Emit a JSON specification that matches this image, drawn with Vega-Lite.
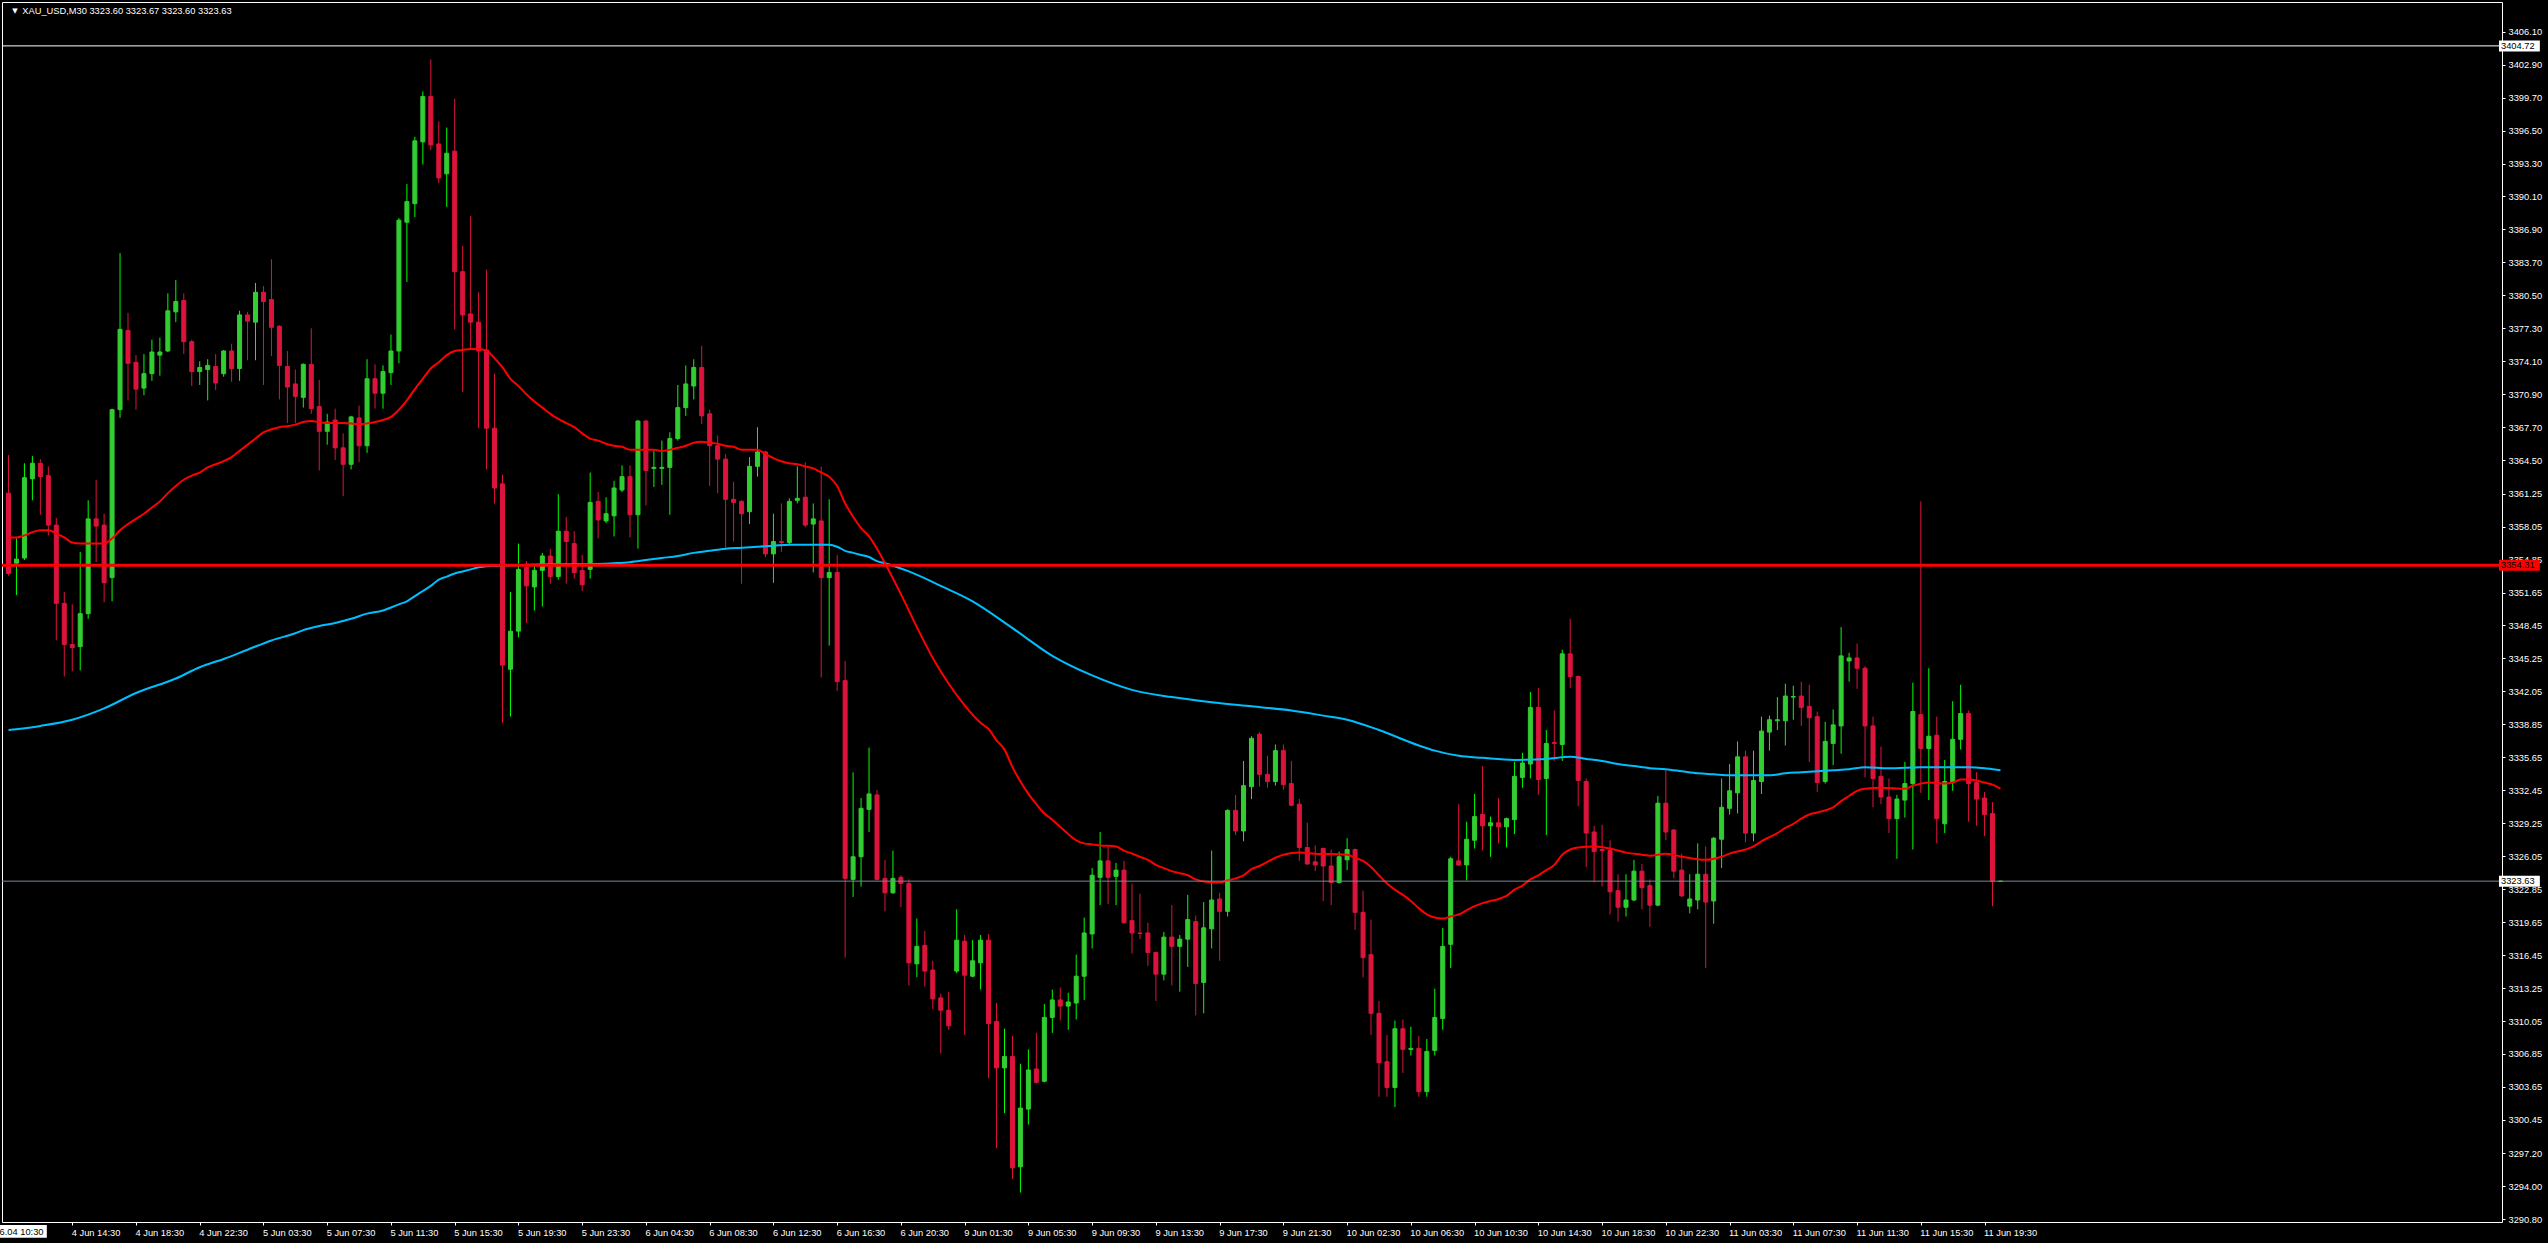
{
"$schema": "https://vega.github.io/schema/vega-lite/v6.json",
"width": 2500, "height": 1220, "autosize": "none",
"padding": {"left": 2, "top": 2, "right": 46, "bottom": 21},
"background": "#000000",
"config": {
  "view": {"stroke": "#ffffff", "strokeWidth": 1, "fill": "#000000"},
  "axis": {"labelColor": "#ffffff", "tickColor": "#ffffff", "domain": false, "grid": false, "labelFont": "Liberation Sans", "labelFontSize": 9.3, "tickSize": 3, "title": null}
},
"datasets": {
"candles": [
{"i":0,"o":3361.3,"h":3365.0,"l":3353.3,"c":3353.5},
{"i":1,"o":3354.5,"h":3356.9,"l":3351.4,"c":3354.9},
{"i":2,"o":3355.0,"h":3364.2,"l":3354.8,"c":3362.8},
{"i":3,"o":3362.7,"h":3364.9,"l":3360.6,"c":3364.2},
{"i":4,"o":3364.2,"h":3364.6,"l":3359.2,"c":3362.9},
{"i":5,"o":3363.0,"h":3363.9,"l":3357.2,"c":3358.2},
{"i":6,"o":3358.2,"h":3358.9,"l":3347.0,"c":3350.6},
{"i":7,"o":3350.6,"h":3351.7,"l":3343.5,"c":3346.6},
{"i":8,"o":3346.6,"h":3350.5,"l":3344.0,"c":3346.3},
{"i":9,"o":3346.4,"h":3355.6,"l":3344.1,"c":3349.6},
{"i":10,"o":3349.6,"h":3360.6,"l":3349.1,"c":3358.8},
{"i":11,"o":3358.8,"h":3362.6,"l":3354.6,"c":3358.1},
{"i":12,"o":3358.2,"h":3359.3,"l":3350.7,"c":3352.6},
{"i":13,"o":3353.1,"h":3369.5,"l":3350.8,"c":3369.4},
{"i":14,"o":3369.4,"h":3384.6,"l":3368.6,"c":3377.2},
{"i":15,"o":3377.1,"h":3378.8,"l":3370.3,"c":3373.9},
{"i":16,"o":3374.0,"h":3374.7,"l":3369.4,"c":3371.4},
{"i":17,"o":3371.5,"h":3374.8,"l":3370.8,"c":3372.9},
{"i":18,"o":3372.9,"h":3376.2,"l":3372.2,"c":3375.0},
{"i":19,"o":3374.7,"h":3376.4,"l":3372.7,"c":3375.0},
{"i":20,"o":3375.1,"h":3380.7,"l":3375.0,"c":3379.0},
{"i":21,"o":3378.9,"h":3382.0,"l":3377.9,"c":3379.9},
{"i":22,"o":3380.0,"h":3380.7,"l":3374.8,"c":3376.0},
{"i":23,"o":3376.0,"h":3376.2,"l":3371.7,"c":3373.1},
{"i":24,"o":3373.1,"h":3374.1,"l":3371.8,"c":3373.5},
{"i":25,"o":3373.3,"h":3374.3,"l":3370.3,"c":3373.7},
{"i":26,"o":3373.6,"h":3374.8,"l":3371.3,"c":3372.0},
{"i":27,"o":3372.9,"h":3375.2,"l":3372.6,"c":3375.1},
{"i":28,"o":3375.1,"h":3375.8,"l":3372.1,"c":3373.4},
{"i":29,"o":3373.4,"h":3379.0,"l":3372.2,"c":3378.6},
{"i":30,"o":3378.6,"h":3378.9,"l":3374.2,"c":3378.0},
{"i":31,"o":3377.9,"h":3381.7,"l":3374.2,"c":3380.8},
{"i":32,"o":3380.8,"h":3381.4,"l":3371.8,"c":3379.9},
{"i":33,"o":3380.1,"h":3384.0,"l":3374.6,"c":3377.4},
{"i":34,"o":3377.5,"h":3377.6,"l":3370.4,"c":3373.7},
{"i":35,"o":3373.6,"h":3375.1,"l":3368.1,"c":3371.6},
{"i":36,"o":3371.9,"h":3373.3,"l":3368.1,"c":3370.7},
{"i":37,"o":3370.6,"h":3373.9,"l":3369.6,"c":3373.8},
{"i":38,"o":3373.8,"h":3377.3,"l":3369.0,"c":3369.5},
{"i":39,"o":3369.7,"h":3372.3,"l":3363.5,"c":3367.3},
{"i":40,"o":3367.3,"h":3369.0,"l":3366.0,"c":3368.2},
{"i":41,"o":3368.4,"h":3369.5,"l":3364.5,"c":3365.7},
{"i":42,"o":3365.7,"h":3367.1,"l":3361.0,"c":3364.1},
{"i":43,"o":3364.1,"h":3368.8,"l":3363.6,"c":3368.7},
{"i":44,"o":3368.6,"h":3369.8,"l":3364.3,"c":3365.9},
{"i":45,"o":3365.9,"h":3374.3,"l":3365.2,"c":3372.4},
{"i":46,"o":3372.4,"h":3373.8,"l":3369.5,"c":3371.0},
{"i":47,"o":3371.0,"h":3373.7,"l":3369.5,"c":3373.1},
{"i":48,"o":3373.0,"h":3376.7,"l":3371.8,"c":3375.1},
{"i":49,"o":3375.1,"h":3388.0,"l":3373.9,"c":3387.8},
{"i":50,"o":3387.6,"h":3391.3,"l":3381.8,"c":3389.6},
{"i":51,"o":3389.4,"h":3395.9,"l":3388.1,"c":3395.5},
{"i":52,"o":3395.4,"h":3400.3,"l":3393.2,"c":3399.8},
{"i":53,"o":3399.8,"h":3403.4,"l":3394.6,"c":3395.1},
{"i":54,"o":3395.2,"h":3397.4,"l":3391.4,"c":3391.9},
{"i":55,"o":3392.3,"h":3396.8,"l":3389.1,"c":3394.3},
{"i":56,"o":3394.5,"h":3399.6,"l":3377.2,"c":3382.8},
{"i":57,"o":3382.8,"h":3385.3,"l":3371.1,"c":3378.6},
{"i":58,"o":3378.7,"h":3388.2,"l":3375.3,"c":3377.9},
{"i":59,"o":3377.9,"h":3380.8,"l":3367.6,"c":3375.1},
{"i":60,"o":3375.2,"h":3383.0,"l":3363.6,"c":3367.6},
{"i":61,"o":3367.6,"h":3372.9,"l":3360.3,"c":3361.8},
{"i":62,"o":3362.2,"h":3363.1,"l":3339.0,"c":3344.6},
{"i":63,"o":3344.2,"h":3351.7,"l":3339.6,"c":3347.9},
{"i":64,"o":3347.9,"h":3356.4,"l":3347.3,"c":3353.9},
{"i":65,"o":3354.1,"h":3354.7,"l":3348.7,"c":3352.3},
{"i":66,"o":3352.2,"h":3354.2,"l":3349.9,"c":3353.8},
{"i":67,"o":3353.8,"h":3355.5,"l":3350.3,"c":3355.2},
{"i":68,"o":3355.2,"h":3355.9,"l":3352.5,"c":3353.2},
{"i":69,"o":3353.2,"h":3361.2,"l":3352.9,"c":3357.6},
{"i":70,"o":3357.6,"h":3359.0,"l":3352.5,"c":3356.6},
{"i":71,"o":3356.4,"h":3357.6,"l":3353.0,"c":3353.6},
{"i":72,"o":3353.8,"h":3355.3,"l":3351.8,"c":3352.4},
{"i":73,"o":3353.9,"h":3363.3,"l":3353.0,"c":3360.4},
{"i":74,"o":3360.5,"h":3361.4,"l":3356.9,"c":3358.7},
{"i":75,"o":3358.6,"h":3360.9,"l":3358.4,"c":3359.3},
{"i":76,"o":3359.1,"h":3362.5,"l":3357.1,"c":3361.8},
{"i":77,"o":3361.6,"h":3364.0,"l":3361.4,"c":3362.9},
{"i":78,"o":3362.9,"h":3364.0,"l":3357.0,"c":3359.2},
{"i":79,"o":3359.2,"h":3368.4,"l":3355.9,"c":3368.3},
{"i":80,"o":3368.3,"h":3368.4,"l":3360.1,"c":3363.5},
{"i":81,"o":3363.7,"h":3365.4,"l":3361.9,"c":3363.8},
{"i":82,"o":3363.7,"h":3366.4,"l":3362.1,"c":3363.8},
{"i":83,"o":3363.8,"h":3367.2,"l":3359.2,"c":3366.6},
{"i":84,"o":3366.6,"h":3371.8,"l":3366.4,"c":3369.6},
{"i":85,"o":3369.6,"h":3373.7,"l":3368.8,"c":3371.9},
{"i":86,"o":3371.7,"h":3374.3,"l":3370.4,"c":3373.5},
{"i":87,"o":3373.5,"h":3375.6,"l":3368.0,"c":3368.8},
{"i":88,"o":3369.0,"h":3369.4,"l":3362.0,"c":3365.9},
{"i":89,"o":3365.9,"h":3366.9,"l":3361.3,"c":3364.6},
{"i":90,"o":3364.6,"h":3365.1,"l":3356.0,"c":3360.7},
{"i":91,"o":3360.7,"h":3362.4,"l":3356.6,"c":3360.4},
{"i":92,"o":3360.5,"h":3360.6,"l":3352.5,"c":3359.3},
{"i":93,"o":3359.5,"h":3364.8,"l":3358.3,"c":3363.9},
{"i":94,"o":3363.9,"h":3367.7,"l":3362.9,"c":3365.3},
{"i":95,"o":3365.3,"h":3365.4,"l":3355.1,"c":3355.4},
{"i":96,"o":3355.4,"h":3359.3,"l":3352.6,"c":3356.6},
{"i":97,"o":3356.6,"h":3360.3,"l":3355.6,"c":3356.5},
{"i":98,"o":3356.5,"h":3360.8,"l":3356.3,"c":3360.5},
{"i":99,"o":3360.6,"h":3363.9,"l":3360.3,"c":3360.8},
{"i":100,"o":3360.9,"h":3364.3,"l":3358.0,"c":3358.2},
{"i":101,"o":3358.3,"h":3360.3,"l":3353.6,"c":3358.8},
{"i":102,"o":3358.6,"h":3363.9,"l":3343.4,"c":3353.1},
{"i":103,"o":3353.1,"h":3360.7,"l":3346.5,"c":3353.6},
{"i":104,"o":3353.6,"h":3355.3,"l":3342.1,"c":3343.0},
{"i":105,"o":3343.1,"h":3345.0,"l":3316.2,"c":3323.9},
{"i":106,"o":3323.8,"h":3334.2,"l":3322.1,"c":3326.0},
{"i":107,"o":3326.0,"h":3331.7,"l":3323.1,"c":3330.7},
{"i":108,"o":3330.6,"h":3336.6,"l":3328.4,"c":3332.1},
{"i":109,"o":3332.0,"h":3332.5,"l":3323.7,"c":3323.8},
{"i":110,"o":3323.9,"h":3325.7,"l":3320.7,"c":3322.5},
{"i":111,"o":3322.5,"h":3326.6,"l":3322.4,"c":3323.9},
{"i":112,"o":3324.0,"h":3324.2,"l":3321.1,"c":3323.4},
{"i":113,"o":3323.4,"h":3323.8,"l":3313.5,"c":3315.7},
{"i":114,"o":3315.6,"h":3320.0,"l":3314.3,"c":3317.3},
{"i":115,"o":3317.4,"h":3318.8,"l":3313.4,"c":3314.9},
{"i":116,"o":3315.0,"h":3315.9,"l":3311.2,"c":3312.2},
{"i":117,"o":3312.3,"h":3312.7,"l":3306.9,"c":3311.1},
{"i":118,"o":3311.1,"h":3312.9,"l":3309.2,"c":3309.6},
{"i":119,"o":3314.9,"h":3320.9,"l":3314.7,"c":3317.9},
{"i":120,"o":3317.8,"h":3318.4,"l":3308.7,"c":3314.5},
{"i":121,"o":3314.4,"h":3317.9,"l":3314.3,"c":3315.9},
{"i":122,"o":3315.7,"h":3318.4,"l":3313.1,"c":3317.9},
{"i":123,"o":3317.9,"h":3318.5,"l":3304.5,"c":3309.8},
{"i":124,"o":3310.0,"h":3311.8,"l":3297.7,"c":3305.5},
{"i":125,"o":3305.5,"h":3309.3,"l":3301.1,"c":3306.6},
{"i":126,"o":3306.6,"h":3308.6,"l":3294.7,"c":3295.8},
{"i":127,"o":3295.9,"h":3305.9,"l":3293.4,"c":3301.6},
{"i":128,"o":3301.5,"h":3307.3,"l":3300.0,"c":3305.3},
{"i":129,"o":3305.4,"h":3308.9,"l":3304.0,"c":3304.1},
{"i":130,"o":3304.2,"h":3311.7,"l":3304.1,"c":3310.4},
{"i":131,"o":3310.4,"h":3313.1,"l":3308.9,"c":3312.1},
{"i":132,"o":3312.1,"h":3313.3,"l":3310.1,"c":3311.5},
{"i":133,"o":3311.5,"h":3312.8,"l":3309.2,"c":3311.9},
{"i":134,"o":3311.8,"h":3316.5,"l":3310.2,"c":3314.4},
{"i":135,"o":3314.4,"h":3320.1,"l":3312.1,"c":3318.6},
{"i":136,"o":3318.5,"h":3324.9,"l":3317.1,"c":3324.2},
{"i":137,"o":3324.0,"h":3328.4,"l":3321.3,"c":3325.6},
{"i":138,"o":3325.6,"h":3327.1,"l":3321.4,"c":3324.0},
{"i":139,"o":3324.1,"h":3325.4,"l":3321.3,"c":3324.7},
{"i":140,"o":3324.7,"h":3325.6,"l":3319.5,"c":3319.6},
{"i":141,"o":3319.8,"h":3323.4,"l":3316.6,"c":3318.6},
{"i":142,"o":3318.6,"h":3322.4,"l":3318.0,"c":3318.55},
{"i":143,"o":3318.6,"h":3319.6,"l":3315.4,"c":3316.7},
{"i":144,"o":3316.7,"h":3316.8,"l":3312.0,"c":3314.6},
{"i":145,"o":3314.6,"h":3318.7,"l":3314.0,"c":3318.2},
{"i":146,"o":3318.2,"h":3321.3,"l":3313.5,"c":3317.3},
{"i":147,"o":3317.3,"h":3318.4,"l":3312.9,"c":3318.0},
{"i":148,"o":3318.0,"h":3322.3,"l":3315.3,"c":3319.9},
{"i":149,"o":3319.7,"h":3320.3,"l":3310.6,"c":3313.7},
{"i":150,"o":3313.8,"h":3321.6,"l":3310.8,"c":3319.1},
{"i":151,"o":3319.0,"h":3326.6,"l":3317.1,"c":3321.8},
{"i":152,"o":3321.9,"h":3322.5,"l":3315.9,"c":3320.7},
{"i":153,"o":3320.7,"h":3330.6,"l":3320.2,"c":3330.5},
{"i":154,"o":3330.5,"h":3332.0,"l":3328.1,"c":3328.5},
{"i":155,"o":3328.5,"h":3335.3,"l":3327.5,"c":3332.9},
{"i":156,"o":3332.8,"h":3337.7,"l":3331.6,"c":3337.5},
{"i":157,"o":3337.9,"h":3338.1,"l":3332.8,"c":3334.0},
{"i":158,"o":3334.0,"h":3335.8,"l":3332.7,"c":3333.3},
{"i":159,"o":3333.3,"h":3336.9,"l":3332.9,"c":3336.3},
{"i":160,"o":3336.3,"h":3336.9,"l":3332.5,"c":3333.0},
{"i":161,"o":3333.1,"h":3335.3,"l":3330.9,"c":3331.0},
{"i":162,"o":3331.1,"h":3331.6,"l":3325.6,"c":3326.9},
{"i":163,"o":3326.9,"h":3329.3,"l":3325.2,"c":3325.3},
{"i":164,"o":3325.5,"h":3327.1,"l":3324.6,"c":3325.2},
{"i":165,"o":3326.8,"h":3326.9,"l":3321.7,"c":3325.1},
{"i":166,"o":3325.1,"h":3326.7,"l":3321.3,"c":3323.5},
{"i":167,"o":3323.5,"h":3326.5,"l":3323.4,"c":3326.0},
{"i":168,"o":3325.7,"h":3327.8,"l":3324.7,"c":3326.7},
{"i":169,"o":3326.7,"h":3326.8,"l":3318.9,"c":3320.6},
{"i":170,"o":3320.6,"h":3322.7,"l":3314.3,"c":3316.2},
{"i":171,"o":3316.5,"h":3319.9,"l":3308.7,"c":3310.8},
{"i":172,"o":3310.8,"h":3312.0,"l":3302.7,"c":3306.0},
{"i":173,"o":3306.1,"h":3308.7,"l":3302.7,"c":3303.6},
{"i":174,"o":3303.6,"h":3310.1,"l":3301.7,"c":3309.3},
{"i":175,"o":3309.3,"h":3310.2,"l":3305.0,"c":3307.3},
{"i":176,"o":3307.3,"h":3309.5,"l":3306.7,"c":3307.4},
{"i":177,"o":3307.4,"h":3308.6,"l":3302.7,"c":3303.2},
{"i":178,"o":3303.2,"h":3308.3,"l":3302.7,"c":3307.1},
{"i":179,"o":3307.2,"h":3313.2,"l":3306.7,"c":3310.4},
{"i":180,"o":3310.3,"h":3319.1,"l":3309.2,"c":3317.3},
{"i":181,"o":3317.5,"h":3326.0,"l":3315.2,"c":3325.8},
{"i":182,"o":3325.6,"h":3331.1,"l":3325.1,"c":3325.2},
{"i":183,"o":3325.2,"h":3329.4,"l":3323.7,"c":3327.7},
{"i":184,"o":3327.6,"h":3332.1,"l":3326.8,"c":3329.9},
{"i":185,"o":3330.1,"h":3334.8,"l":3326.6,"c":3329.0},
{"i":186,"o":3329.0,"h":3329.9,"l":3326.0,"c":3329.3},
{"i":187,"o":3329.3,"h":3331.7,"l":3327.3,"c":3328.9},
{"i":188,"o":3328.9,"h":3329.8,"l":3326.9,"c":3329.7},
{"i":189,"o":3329.6,"h":3335.2,"l":3328.2,"c":3333.8},
{"i":190,"o":3333.7,"h":3336.1,"l":3332.7,"c":3335.1},
{"i":191,"o":3335.0,"h":3342.0,"l":3333.6,"c":3340.5},
{"i":192,"o":3340.5,"h":3342.4,"l":3332.0,"c":3333.5},
{"i":193,"o":3333.6,"h":3338.3,"l":3328.1,"c":3337.0},
{"i":194,"o":3337.1,"h":3340.2,"l":3335.3,"c":3337.0},
{"i":195,"o":3336.9,"h":3346.1,"l":3335.3,"c":3345.7},
{"i":196,"o":3345.7,"h":3349.1,"l":3342.4,"c":3343.5},
{"i":197,"o":3343.5,"h":3343.6,"l":3330.9,"c":3333.4},
{"i":198,"o":3333.3,"h":3333.6,"l":3325.0,"c":3328.3},
{"i":199,"o":3328.4,"h":3329.0,"l":3323.5,"c":3326.5},
{"i":200,"o":3326.7,"h":3329.1,"l":3323.1,"c":3326.6},
{"i":201,"o":3326.6,"h":3327.6,"l":3320.4,"c":3322.6},
{"i":202,"o":3322.7,"h":3324.3,"l":3319.7,"c":3321.1},
{"i":203,"o":3321.1,"h":3324.3,"l":3320.2,"c":3321.8},
{"i":204,"o":3321.8,"h":3325.7,"l":3321.7,"c":3324.6},
{"i":205,"o":3324.6,"h":3325.3,"l":3320.9,"c":3323.0},
{"i":206,"o":3323.2,"h":3323.8,"l":3319.2,"c":3321.3},
{"i":207,"o":3321.3,"h":3331.9,"l":3321.2,"c":3331.2},
{"i":208,"o":3331.2,"h":3334.4,"l":3327.6,"c":3328.4},
{"i":209,"o":3328.6,"h":3328.7,"l":3323.9,"c":3324.6},
{"i":210,"o":3324.7,"h":3326.3,"l":3322.1,"c":3322.2},
{"i":211,"o":3321.2,"h":3324.3,"l":3320.5,"c":3321.9},
{"i":212,"o":3321.8,"h":3327.3,"l":3320.9,"c":3324.3},
{"i":213,"o":3324.3,"h":3327.0,"l":3315.2,"c":3321.6},
{"i":214,"o":3321.7,"h":3327.9,"l":3319.5,"c":3327.8},
{"i":215,"o":3327.7,"h":3333.6,"l":3324.9,"c":3330.8},
{"i":216,"o":3330.7,"h":3335.0,"l":3330.1,"c":3332.4},
{"i":217,"o":3332.2,"h":3337.2,"l":3330.2,"c":3335.7},
{"i":218,"o":3335.7,"h":3336.3,"l":3327.4,"c":3328.3},
{"i":219,"o":3328.3,"h":3336.3,"l":3327.5,"c":3333.4},
{"i":220,"o":3333.3,"h":3339.6,"l":3332.1,"c":3338.2},
{"i":221,"o":3338.1,"h":3339.7,"l":3336.3,"c":3339.3},
{"i":222,"o":3339.2,"h":3341.5,"l":3338.3,"c":3339.3},
{"i":223,"o":3339.2,"h":3342.8,"l":3336.8,"c":3341.6},
{"i":224,"o":3341.5,"h":3342.6,"l":3339.3,"c":3341.55},
{"i":225,"o":3341.6,"h":3343.0,"l":3338.7,"c":3340.5},
{"i":226,"o":3340.6,"h":3342.7,"l":3335.2,"c":3339.5},
{"i":227,"o":3339.6,"h":3340.1,"l":3332.3,"c":3333.2},
{"i":228,"o":3333.3,"h":3339.1,"l":3333.1,"c":3337.2},
{"i":229,"o":3337.0,"h":3340.3,"l":3334.9,"c":3338.8},
{"i":230,"o":3338.7,"h":3348.3,"l":3336.0,"c":3345.5},
{"i":231,"o":3345.0,"h":3345.8,"l":3343.0,"c":3345.3},
{"i":232,"o":3345.3,"h":3346.7,"l":3342.3,"c":3344.3},
{"i":233,"o":3344.3,"h":3344.5,"l":3333.7,"c":3338.7},
{"i":234,"o":3338.7,"h":3339.6,"l":3330.8,"c":3333.6},
{"i":235,"o":3333.8,"h":3336.7,"l":3331.1,"c":3331.8},
{"i":236,"o":3331.8,"h":3333.6,"l":3328.3,"c":3329.7},
{"i":237,"o":3329.7,"h":3332.0,"l":3325.8,"c":3331.6},
{"i":238,"o":3331.5,"h":3335.2,"l":3329.8,"c":3333.1},
{"i":239,"o":3333.1,"h":3342.9,"l":3326.7,"c":3340.1},
{"i":240,"o":3339.8,"h":3360.5,"l":3332.2,"c":3336.5},
{"i":241,"o":3336.5,"h":3344.3,"l":3331.5,"c":3337.7},
{"i":242,"o":3337.8,"h":3339.6,"l":3327.3,"c":3329.7},
{"i":243,"o":3329.2,"h":3335.4,"l":3328.3,"c":3333.3},
{"i":244,"o":3333.2,"h":3341.1,"l":3332.4,"c":3337.4},
{"i":245,"o":3337.4,"h":3342.7,"l":3336.4,"c":3339.9},
{"i":246,"o":3339.9,"h":3340.2,"l":3329.4,"c":3333.1},
{"i":247,"o":3333.2,"h":3334.2,"l":3329.0,"c":3331.6},
{"i":248,"o":3331.7,"h":3332.3,"l":3328.0,"c":3330.1},
{"i":249,"o":3330.2,"h":3331.3,"l":3321.2,"c":3323.6},
{"i":250,"o":3323.60,"h":3323.67,"l":3323.60,"c":3323.63}
],
"ma": [
{"i":0,"v":3338.3,"line":"slow"},{"i":4,"v":3338.7,"line":"slow"},{"i":8,"v":3339.3,"line":"slow"},{"i":12,"v":3340.4,"line":"slow"},{"i":16,"v":3341.9,"line":"slow"},{"i":21,"v":3343.3,"line":"slow"},{"i":24,"v":3344.4,"line":"slow"},{"i":27,"v":3345.2,"line":"slow"},{"i":30,"v":3346.1,"line":"slow"},{"i":33,"v":3347.0,"line":"slow"},{"i":36,"v":3347.7,"line":"slow"},{"i":37,"v":3348.0,"line":"slow"},{"i":39,"v":3348.4,"line":"slow"},{"i":41,"v":3348.7,"line":"slow"},{"i":43,"v":3349.1,"line":"slow"},{"i":45,"v":3349.6,"line":"slow"},{"i":47,"v":3349.9,"line":"slow"},{"i":48,"v":3350.2,"line":"slow"},{"i":49,"v":3350.5,"line":"slow"},{"i":50,"v":3350.8,"line":"slow"},{"i":51,"v":3351.3,"line":"slow"},{"i":52,"v":3351.8,"line":"slow"},{"i":53,"v":3352.3,"line":"slow"},{"i":54,"v":3352.9,"line":"slow"},{"i":55,"v":3353.2,"line":"slow"},{"i":56,"v":3353.5,"line":"slow"},{"i":57,"v":3353.7,"line":"slow"},{"i":58,"v":3353.9,"line":"slow"},{"i":59,"v":3354.1,"line":"slow"},{"i":60,"v":3354.2,"line":"slow"},{"i":64,"v":3354.3,"line":"slow"},{"i":68,"v":3354.4,"line":"slow"},{"i":72,"v":3354.4,"line":"slow"},{"i":76,"v":3354.5,"line":"slow"},{"i":78,"v":3354.6,"line":"slow"},{"i":80,"v":3354.8,"line":"slow"},{"i":82,"v":3355.0,"line":"slow"},{"i":84,"v":3355.2,"line":"slow"},{"i":86,"v":3355.5,"line":"slow"},{"i":88,"v":3355.7,"line":"slow"},{"i":90,"v":3355.9,"line":"slow"},{"i":92,"v":3356.0,"line":"slow"},{"i":94,"v":3356.1,"line":"slow"},{"i":96,"v":3356.2,"line":"slow"},{"i":98,"v":3356.3,"line":"slow"},{"i":100,"v":3356.3,"line":"slow"},{"i":103,"v":3356.3,"line":"slow"},{"i":104,"v":3356.1,"line":"slow"},{"i":105,"v":3355.7,"line":"slow"},{"i":106,"v":3355.5,"line":"slow"},{"i":107,"v":3355.3,"line":"slow"},{"i":108,"v":3355.1,"line":"slow"},{"i":109,"v":3354.7,"line":"slow"},{"i":110,"v":3354.5,"line":"slow"},{"i":113,"v":3353.7,"line":"slow"},{"i":117,"v":3352.3,"line":"slow"},{"i":121,"v":3350.8,"line":"slow"},{"i":126,"v":3348.2,"line":"slow"},{"i":131,"v":3345.5,"line":"slow"},{"i":136,"v":3343.6,"line":"slow"},{"i":141,"v":3342.2,"line":"slow"},{"i":146,"v":3341.5,"line":"slow"},{"i":151,"v":3341.0,"line":"slow"},{"i":156,"v":3340.6,"line":"slow"},{"i":161,"v":3340.2,"line":"slow"},{"i":165,"v":3339.7,"line":"slow"},{"i":168,"v":3339.3,"line":"slow"},{"i":172,"v":3338.3,"line":"slow"},{"i":177,"v":3336.8,"line":"slow"},{"i":179,"v":3336.3,"line":"slow"},{"i":182,"v":3335.8,"line":"slow"},{"i":185,"v":3335.6,"line":"slow"},{"i":189,"v":3335.4,"line":"slow"},{"i":193,"v":3335.5,"line":"slow"},{"i":196,"v":3335.7,"line":"slow"},{"i":198,"v":3335.5,"line":"slow"},{"i":200,"v":3335.3,"line":"slow"},{"i":202,"v":3335.0,"line":"slow"},{"i":204,"v":3334.8,"line":"slow"},{"i":206,"v":3334.6,"line":"slow"},{"i":208,"v":3334.5,"line":"slow"},{"i":210,"v":3334.3,"line":"slow"},{"i":212,"v":3334.1,"line":"slow"},{"i":214,"v":3334.0,"line":"slow"},{"i":216,"v":3333.9,"line":"slow"},{"i":219,"v":3333.9,"line":"slow"},{"i":221,"v":3333.9,"line":"slow"},{"i":223,"v":3334.1,"line":"slow"},{"i":225,"v":3334.2,"line":"slow"},{"i":227,"v":3334.3,"line":"slow"},{"i":229,"v":3334.4,"line":"slow"},{"i":231,"v":3334.5,"line":"slow"},{"i":233,"v":3334.7,"line":"slow"},{"i":236,"v":3334.6,"line":"slow"},{"i":240,"v":3334.7,"line":"slow"},{"i":246,"v":3334.7,"line":"slow"},{"i":248,"v":3334.6,"line":"slow"},{"i":249,"v":3334.5,"line":"slow"},{"i":250,"v":3334.4,"line":"slow"},
{"i":0,"v":3357.0,"line":"fast"},{"i":1,"v":3357.0,"line":"fast"},{"i":2,"v":3357.2,"line":"fast"},{"i":3,"v":3357.5,"line":"fast"},{"i":4,"v":3357.7,"line":"fast"},{"i":5,"v":3357.7,"line":"fast"},{"i":6,"v":3357.4,"line":"fast"},{"i":7,"v":3357.0,"line":"fast"},{"i":8,"v":3356.5,"line":"fast"},{"i":9,"v":3356.4,"line":"fast"},{"i":10,"v":3356.4,"line":"fast"},{"i":11,"v":3356.4,"line":"fast"},{"i":12,"v":3356.4,"line":"fast"},{"i":13,"v":3356.9,"line":"fast"},{"i":14,"v":3357.7,"line":"fast"},{"i":15,"v":3358.3,"line":"fast"},{"i":16,"v":3358.8,"line":"fast"},{"i":17,"v":3359.3,"line":"fast"},{"i":18,"v":3359.9,"line":"fast"},{"i":19,"v":3360.5,"line":"fast"},{"i":20,"v":3361.3,"line":"fast"},{"i":21,"v":3362.0,"line":"fast"},{"i":22,"v":3362.6,"line":"fast"},{"i":23,"v":3363.0,"line":"fast"},{"i":24,"v":3363.3,"line":"fast"},{"i":25,"v":3363.8,"line":"fast"},{"i":26,"v":3364.1,"line":"fast"},{"i":27,"v":3364.4,"line":"fast"},{"i":28,"v":3364.8,"line":"fast"},{"i":29,"v":3365.4,"line":"fast"},{"i":30,"v":3366.0,"line":"fast"},{"i":31,"v":3366.6,"line":"fast"},{"i":32,"v":3367.2,"line":"fast"},{"i":33,"v":3367.5,"line":"fast"},{"i":34,"v":3367.7,"line":"fast"},{"i":35,"v":3367.8,"line":"fast"},{"i":36,"v":3367.95,"line":"fast"},{"i":37,"v":3368.2,"line":"fast"},{"i":38,"v":3368.3,"line":"fast"},{"i":39,"v":3368.2,"line":"fast"},{"i":40,"v":3368.1,"line":"fast"},{"i":42,"v":3368.1,"line":"fast"},{"i":44,"v":3368.0,"line":"fast"},{"i":46,"v":3368.2,"line":"fast"},{"i":47,"v":3368.4,"line":"fast"},{"i":48,"v":3368.7,"line":"fast"},{"i":49,"v":3369.4,"line":"fast"},{"i":50,"v":3370.3,"line":"fast"},{"i":51,"v":3371.4,"line":"fast"},{"i":52,"v":3372.4,"line":"fast"},{"i":53,"v":3373.4,"line":"fast"},{"i":54,"v":3374.0,"line":"fast"},{"i":55,"v":3374.7,"line":"fast"},{"i":56,"v":3375.1,"line":"fast"},{"i":57,"v":3375.2,"line":"fast"},{"i":58,"v":3375.3,"line":"fast"},{"i":59,"v":3375.3,"line":"fast"},{"i":60,"v":3375.1,"line":"fast"},{"i":61,"v":3374.4,"line":"fast"},{"i":62,"v":3373.5,"line":"fast"},{"i":63,"v":3372.4,"line":"fast"},{"i":64,"v":3371.7,"line":"fast"},{"i":65,"v":3370.9,"line":"fast"},{"i":66,"v":3370.2,"line":"fast"},{"i":67,"v":3369.6,"line":"fast"},{"i":68,"v":3369.0,"line":"fast"},{"i":69,"v":3368.5,"line":"fast"},{"i":70,"v":3368.1,"line":"fast"},{"i":71,"v":3367.7,"line":"fast"},{"i":72,"v":3367.1,"line":"fast"},{"i":73,"v":3366.6,"line":"fast"},{"i":74,"v":3366.4,"line":"fast"},{"i":75,"v":3366.1,"line":"fast"},{"i":76,"v":3365.9,"line":"fast"},{"i":77,"v":3365.8,"line":"fast"},{"i":78,"v":3365.5,"line":"fast"},{"i":81,"v":3365.5,"line":"fast"},{"i":82,"v":3365.4,"line":"fast"},{"i":83,"v":3365.5,"line":"fast"},{"i":84,"v":3365.7,"line":"fast"},{"i":85,"v":3365.9,"line":"fast"},{"i":86,"v":3366.2,"line":"fast"},{"i":87,"v":3366.3,"line":"fast"},{"i":88,"v":3366.2,"line":"fast"},{"i":89,"v":3366.1,"line":"fast"},{"i":90,"v":3365.9,"line":"fast"},{"i":91,"v":3365.8,"line":"fast"},{"i":92,"v":3365.5,"line":"fast"},{"i":94,"v":3365.5,"line":"fast"},{"i":95,"v":3365.1,"line":"fast"},{"i":96,"v":3364.7,"line":"fast"},{"i":97,"v":3364.4,"line":"fast"},{"i":98,"v":3364.2,"line":"fast"},{"i":99,"v":3364.1,"line":"fast"},{"i":100,"v":3363.9,"line":"fast"},{"i":101,"v":3363.7,"line":"fast"},{"i":102,"v":3363.3,"line":"fast"},{"i":103,"v":3362.9,"line":"fast"},{"i":104,"v":3362.0,"line":"fast"},{"i":105,"v":3360.3,"line":"fast"},{"i":106,"v":3359.0,"line":"fast"},{"i":107,"v":3357.9,"line":"fast"},{"i":108,"v":3357.1,"line":"fast"},{"i":109,"v":3355.9,"line":"fast"},{"i":110,"v":3354.5,"line":"fast"},{"i":112,"v":3351.5,"line":"fast"},{"i":114,"v":3348.3,"line":"fast"},{"i":116,"v":3345.3,"line":"fast"},{"i":118,"v":3342.8,"line":"fast"},{"i":120,"v":3340.7,"line":"fast"},{"i":122,"v":3339.0,"line":"fast"},{"i":123,"v":3338.4,"line":"fast"},{"i":124,"v":3337.3,"line":"fast"},{"i":125,"v":3336.4,"line":"fast"},{"i":126,"v":3334.7,"line":"fast"},{"i":127,"v":3333.3,"line":"fast"},{"i":128,"v":3332.1,"line":"fast"},{"i":129,"v":3331.1,"line":"fast"},{"i":130,"v":3330.2,"line":"fast"},{"i":131,"v":3329.6,"line":"fast"},{"i":132,"v":3328.9,"line":"fast"},{"i":133,"v":3328.2,"line":"fast"},{"i":134,"v":3327.6,"line":"fast"},{"i":135,"v":3327.3,"line":"fast"},{"i":136,"v":3327.2,"line":"fast"},{"i":137,"v":3327.1,"line":"fast"},{"i":139,"v":3327.0,"line":"fast"},{"i":140,"v":3326.6,"line":"fast"},{"i":141,"v":3326.3,"line":"fast"},{"i":142,"v":3326.0,"line":"fast"},{"i":143,"v":3325.7,"line":"fast"},{"i":144,"v":3325.2,"line":"fast"},{"i":145,"v":3324.9,"line":"fast"},{"i":146,"v":3324.6,"line":"fast"},{"i":147,"v":3324.4,"line":"fast"},{"i":148,"v":3324.2,"line":"fast"},{"i":149,"v":3323.8,"line":"fast"},{"i":150,"v":3323.6,"line":"fast"},{"i":152,"v":3323.5,"line":"fast"},{"i":153,"v":3323.7,"line":"fast"},{"i":154,"v":3323.9,"line":"fast"},{"i":155,"v":3324.2,"line":"fast"},{"i":156,"v":3324.8,"line":"fast"},{"i":157,"v":3325.1,"line":"fast"},{"i":158,"v":3325.5,"line":"fast"},{"i":159,"v":3325.9,"line":"fast"},{"i":160,"v":3326.2,"line":"fast"},{"i":162,"v":3326.4,"line":"fast"},{"i":164,"v":3326.3,"line":"fast"},{"i":168,"v":3326.2,"line":"fast"},{"i":169,"v":3325.9,"line":"fast"},{"i":170,"v":3325.6,"line":"fast"},{"i":171,"v":3325.0,"line":"fast"},{"i":172,"v":3324.2,"line":"fast"},{"i":173,"v":3323.4,"line":"fast"},{"i":174,"v":3322.8,"line":"fast"},{"i":175,"v":3322.3,"line":"fast"},{"i":176,"v":3321.7,"line":"fast"},{"i":177,"v":3321.0,"line":"fast"},{"i":178,"v":3320.4,"line":"fast"},{"i":179,"v":3320.1,"line":"fast"},{"i":180,"v":3320.0,"line":"fast"},{"i":181,"v":3320.2,"line":"fast"},{"i":182,"v":3320.4,"line":"fast"},{"i":183,"v":3320.8,"line":"fast"},{"i":184,"v":3321.2,"line":"fast"},{"i":185,"v":3321.5,"line":"fast"},{"i":186,"v":3321.7,"line":"fast"},{"i":187,"v":3321.9,"line":"fast"},{"i":188,"v":3322.2,"line":"fast"},{"i":189,"v":3322.8,"line":"fast"},{"i":190,"v":3323.2,"line":"fast"},{"i":191,"v":3323.8,"line":"fast"},{"i":192,"v":3324.2,"line":"fast"},{"i":193,"v":3324.7,"line":"fast"},{"i":194,"v":3325.2,"line":"fast"},{"i":195,"v":3326.2,"line":"fast"},{"i":196,"v":3326.7,"line":"fast"},{"i":197,"v":3326.9,"line":"fast"},{"i":199,"v":3327.0,"line":"fast"},{"i":201,"v":3326.8,"line":"fast"},{"i":202,"v":3326.6,"line":"fast"},{"i":203,"v":3326.4,"line":"fast"},{"i":205,"v":3326.2,"line":"fast"},{"i":206,"v":3326.1,"line":"fast"},{"i":208,"v":3326.3,"line":"fast"},{"i":210,"v":3326.0,"line":"fast"},{"i":213,"v":3325.7,"line":"fast"},{"i":215,"v":3326.0,"line":"fast"},{"i":216,"v":3326.3,"line":"fast"},{"i":218,"v":3326.7,"line":"fast"},{"i":219,"v":3327.0,"line":"fast"},{"i":220,"v":3327.5,"line":"fast"},{"i":221,"v":3327.9,"line":"fast"},{"i":222,"v":3328.3,"line":"fast"},{"i":223,"v":3328.8,"line":"fast"},{"i":224,"v":3329.2,"line":"fast"},{"i":225,"v":3329.7,"line":"fast"},{"i":226,"v":3330.1,"line":"fast"},{"i":227,"v":3330.3,"line":"fast"},{"i":228,"v":3330.5,"line":"fast"},{"i":229,"v":3330.8,"line":"fast"},{"i":230,"v":3331.4,"line":"fast"},{"i":231,"v":3331.9,"line":"fast"},{"i":232,"v":3332.4,"line":"fast"},{"i":233,"v":3332.6,"line":"fast"},{"i":235,"v":3332.7,"line":"fast"},{"i":238,"v":3332.6,"line":"fast"},{"i":239,"v":3332.9,"line":"fast"},{"i":240,"v":3333.1,"line":"fast"},{"i":241,"v":3333.2,"line":"fast"},{"i":243,"v":3333.1,"line":"fast"},{"i":244,"v":3333.2,"line":"fast"},{"i":245,"v":3333.5,"line":"fast"},{"i":246,"v":3333.5,"line":"fast"},{"i":247,"v":3333.4,"line":"fast"},{"i":248,"v":3333.2,"line":"fast"},{"i":249,"v":3333.0,"line":"fast"},{"i":250,"v":3332.6,"line":"fast"}
],
"levels": [
{"price": 3404.72, "name": "high"},
{"price": 3354.31, "name": "level"},
{"price": 3323.63, "name": "bid"}
]
},
"encoding": {
  "x": {"type": "quantitative", "scale": {"domain": [-0.1875, 312.3125], "nice": false, "zero": false},
        "axis": {"orient": "bottom", "values": [8,16,24,32,40,48,56,64,72,80,88,96,104,112,120,128,136,144,152,160,168,176,184,192,200,208,216,224,232,240,248],
                 "labelAlign": "left", "labelBaseline": "top", "labelPadding": 3, "labelOffset": -1, "labelFlush": false, "labelOverlap": false,
                 "labelExpr": "['4 Jun 14:30','4 Jun 18:30','4 Jun 22:30','5 Jun 03:30','5 Jun 07:30','5 Jun 11:30','5 Jun 15:30','5 Jun 19:30','5 Jun 23:30','6 Jun 04:30','6 Jun 08:30','6 Jun 12:30','6 Jun 16:30','6 Jun 20:30','9 Jun 01:30','9 Jun 05:30','9 Jun 09:30','9 Jun 13:30','9 Jun 17:30','9 Jun 21:30','10 Jun 02:30','10 Jun 06:30','10 Jun 10:30','10 Jun 14:30','10 Jun 18:30','10 Jun 22:30','11 Jun 03:30','11 Jun 07:30','11 Jun 11:30','11 Jun 15:30','11 Jun 19:30'][round(datum.value/8)-1]"}},
  "y": {"type": "quantitative", "scale": {"domain": [3290.54, 3408.98], "nice": false, "zero": false},
        "axis": {"orient": "right", "values": [3290.80,3294.00,3297.20,3300.45,3303.65,3306.85,3310.05,3313.25,3316.45,3319.65,3322.85,3326.05,3329.25,3332.45,3335.65,3338.85,3342.05,3345.25,3348.45,3351.65,3354.85,3358.05,3361.25,3364.50,3367.70,3370.90,3374.10,3377.30,3380.50,3383.70,3386.90,3390.10,3393.30,3396.50,3399.70,3402.90,3406.10],
                 "labelPadding": 3, "labelBaseline": "middle", "labelFlush": false, "labelOverlap": false,
                 "labelExpr": "format(datum.value, '.2f')"}}
},
"layer": [
  {"data": {"name": "candles"}, "mark": {"type": "rule", "strokeWidth": 1},
   "encoding": {"x": {"field": "i"}, "y": {"field": "l"}, "y2": {"field": "h"},
     "color": {"condition": {"test": "datum.c >= datum.o", "value": "#00FF00"}, "value": "#DC143C"}}},
  {"data": {"name": "candles"}, "mark": {"type": "bar", "size": 4, "strokeWidth": 1},
   "encoding": {"x": {"field": "i"}, "y": {"field": "o"}, "y2": {"field": "c"},
     "fill": {"condition": {"test": "datum.c >= datum.o", "value": "#32CD32"}, "value": "#DC143C"},
     "stroke": {"condition": {"test": "datum.c >= datum.o", "value": "#32CD32"}, "value": "#DC143C"}}},
  {"data": {"name": "ma"}, "mark": {"type": "line", "strokeWidth": 2, "interpolate": "monotone"},
   "encoding": {"x": {"field": "i"}, "y": {"field": "v"},
     "color": {"field": "line", "type": "nominal", "scale": {"domain": ["slow", "fast"], "range": ["#00BFFF", "#FF0000"]}, "legend": null},
     "order": {"field": "i", "type": "quantitative"}}},
  {"data": {"name": "levels"}, "transform": [{"filter": "datum.name == 'high'"}], "mark": {"type": "rule", "color": "#FFFFFF", "strokeWidth": 1},
   "encoding": {"y": {"field": "price"}}},
  {"data": {"name": "levels"}, "transform": [{"filter": "datum.name == 'level'"}], "mark": {"type": "rule", "color": "#FF0000", "strokeWidth": 3},
   "encoding": {"y": {"field": "price"}}},
  {"data": {"name": "levels"}, "transform": [{"filter": "datum.name == 'bid'"}], "mark": {"type": "rule", "color": "#778899", "strokeWidth": 1},
   "encoding": {"y": {"field": "price"}}},
  {"data": {"name": "levels"}, "mark": {"type": "rect", "clip": false, "yOffset": -5.5, "y2Offset": 5.5},
   "encoding": {"x": {"datum": 312.56}, "x2": {"datum": 317.69},
     "y": {"field": "price", "type": "quantitative"},
     "y2": {"field": "price"},
     "fill": {"condition": {"test": "datum.name == 'level'", "value": "#FF0000"}, "value": "#FFFFFF"}}},
  {"data": {"name": "levels"}, "mark": {"type": "text", "clip": false, "align": "left", "baseline": "middle", "font": "Liberation Sans", "fontSize": 9.3, "color": "#000000"},
   "encoding": {"x": {"datum": 312.81}, "y": {"field": "price", "type": "quantitative"},
     "text": {"field": "price", "type": "quantitative", "format": ".2f"}}},
  {"data": {"values": [{"label": "2025.06.04 10:30"}]}, "mark": {"type": "rect", "clip": false, "color": "#FFFFFF"},
   "encoding": {"x": {"datum": -5.5}, "x2": {"datum": 4.81}, "y": {"datum": 3290.24}, "y2": {"datum": 3289.0}}},
  {"data": {"values": [{"label": "2025.06.04 10:30"}]}, "mark": {"type": "text", "clip": false, "align": "right", "baseline": "middle", "font": "Liberation Sans", "fontSize": 9.3, "color": "#000000"},
   "encoding": {"x": {"datum": 4.4}, "y": {"datum": 3289.61}, "text": {"field": "label"}}},
  {"data": {"values": [{"label": "▼"}]}, "mark": {"type": "text", "clip": false, "align": "center", "baseline": "middle", "font": "DejaVu Sans", "fontSize": 7, "color": "#FFFFFF"},
   "encoding": {"x": {"datum": 0.8}, "y": {"datum": 3408.1}, "text": {"field": "label"}}},
  {"data": {"values": [{"label": "XAU_USD,M30  3323.60 3323.67 3323.60 3323.63"}]}, "mark": {"type": "text", "clip": false, "align": "left", "baseline": "middle", "font": "Liberation Sans", "fontSize": 9.3, "color": "#FFFFFF"},
   "encoding": {"x": {"datum": 1.73}, "y": {"datum": 3408.14}, "text": {"field": "label"}}}
]
}
